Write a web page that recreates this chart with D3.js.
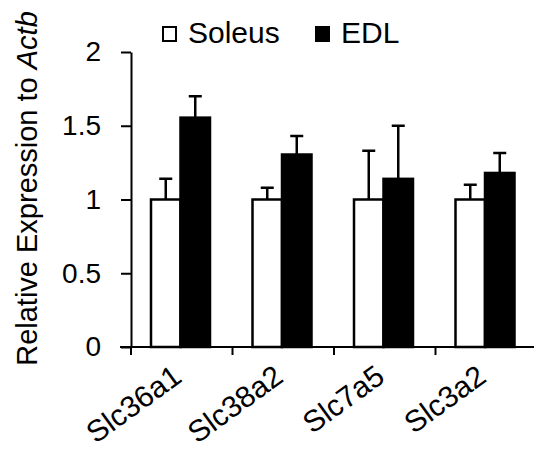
<!DOCTYPE html>
<html>
    <head>
        <meta charset="UTF-8">
        <script src="https://cdn.jsdelivr.net/npm/d3@7"></script>
        <style>
            body { margin: 0; background: #fff; }
            text { font-family: Arial, "Liberation Sans", sans-serif; fill: #000; }
            .axis path, .axis line { stroke: #000; stroke-width: 2px; }
            .axis text { font-size: 28px; }
        </style>
    </head>
    <body>
        <svg width="534" height="454"></svg>
        <script>
            var genes = ['Slc36a1', 'Slc38a2', 'Slc7a5', 'Slc3a2'];
            var series = ['Soleus', 'EDL'];
            var soleus = [1, 1, 1, 1];
            var soleusErr = [0.14, 0.08, 0.33, 0.10];
            var edl = [1.555, 1.305, 1.14, 1.18];
            var edlErr = [0.145, 0.125, 0.36, 0.135];
            var yTicks = [0, 0.5, 1, 1.5, 2];
            var colors = ['#fff', '#000'];

            var svg = d3.select('svg'),
                margin = { top: 52, right: 0, bottom: 107, left: 131 },
                height = 454 - margin.top - margin.bottom,
                g = svg.append('g').attr('transform', 'translate(' + margin.left + ',' + margin.top + ')');

            var x = d3.scaleBand().domain(genes).range([0, 406]);
            var xs = d3.scaleBand().domain(series).range([20, 79]);
            var y = d3.scaleLinear().domain([0, 2]).range([height, 0]);

            var data = genes.map(function(gene, i) {
                return {
                    gene: gene,
                    values: [
                        { s: 'Soleus', v: soleus[i], e: soleusErr[i] },
                        { s: 'EDL', v: edl[i], e: edlErr[i] }
                    ]
                };
            });

            var grp = g.selectAll('.grp')
                .data(data)
                .enter().append('g')
                  .attr('class', 'grp')
                  .attr('transform', function(d) { return 'translate(' + x(d.gene) + ',0)'; });

            // error bars (upper only)
            grp.selectAll('.err')
                .data(function(d) { return d.values; })
                .enter().append('path')
                  .attr('fill', 'none')
                  .attr('stroke', '#000')
                  .attr('stroke-width', 2.5)
                  .attr('d', function(d) {
                      var cx = xs(d.s) + xs.bandwidth() / 2;
                      return 'M' + cx + ',' + y(d.v) + 'V' + y(d.v + d.e) +
                             'M' + (cx - 6.5) + ',' + y(d.v + d.e) + 'H' + (cx + 6.5);
                  });

            grp.selectAll('rect')
                .data(function(d) { return d.values; })
                .enter().append('rect')
                  .attr('x', function(d) { return xs(d.s); })
                  .attr('y', function(d) { return y(d.v); })
                  .attr('width', xs.bandwidth())
                  .attr('height', function(d) { return height - y(d.v); })
                  .attr('fill', function(d, i) { return colors[i]; })
                  .attr('stroke', '#000')
                  .attr('stroke-width', 2.5);

            g.append('g')
               .attr('class', 'axis axis--y')
               .call(d3.axisLeft(y).tickValues(yTicks).tickSize(10).tickSizeOuter(0).tickPadding(20)
                   .tickFormat(function(d) { return d; }));

            var xAxis = g.append('g')
               .attr('class', 'axis axis--x')
               .attr('transform', 'translate(0,' + height + ')');
            xAxis.append('line')
               .attr('x1', -11).attr('x2', 406);
            xAxis.selectAll('.tk')
               .data(genes)
               .enter().append('line')
                 .attr('x1', function(d) { return x(d); })
                 .attr('x2', function(d) { return x(d); })
                 .attr('y1', 0).attr('y2', 8);
            xAxis.selectAll('.lbl')
               .data(genes)
               .enter().append('text')
                 .attr('transform', function(d) {
                     return 'translate(' + (x(d) + x.bandwidth() / 2 - 11) + ',16) rotate(-36)';
                 })
                 .attr('dy', '0.72em')
                 .style('text-anchor', 'end')
                 .style('font-size', '30px')
                 .text(function(d) { return d; });

            // y title
            var yt = svg.append('text')
               .attr('transform', 'translate(37,' + (margin.top + height / 2 - 11) + ') rotate(-90)')
               .style('text-anchor', 'middle')
               .style('font-size', '29px');
            yt.append('tspan').text('Relative Expression to ');
            yt.append('tspan').style('font-style', 'italic').text('Actb');

            // legend
            var leg = svg.selectAll('.leg')
               .data(series)
               .enter().append('g')
                 .attr('class', 'leg')
                 .attr('transform', function(d, i) { return 'translate(' + [163, 316][i] + ',27)'; });
            leg.append('rect')
               .attr('width', 13).attr('height', 14)
               .attr('fill', function(d, i) { return colors[i]; })
               .attr('stroke', '#000').attr('stroke-width', 2);
            leg.append('text')
               .attr('x', 25).attr('y', 16)
               .style('font-size', '30px')
               .text(function(d) { return d; });
        </script>
    </body>
</html>
